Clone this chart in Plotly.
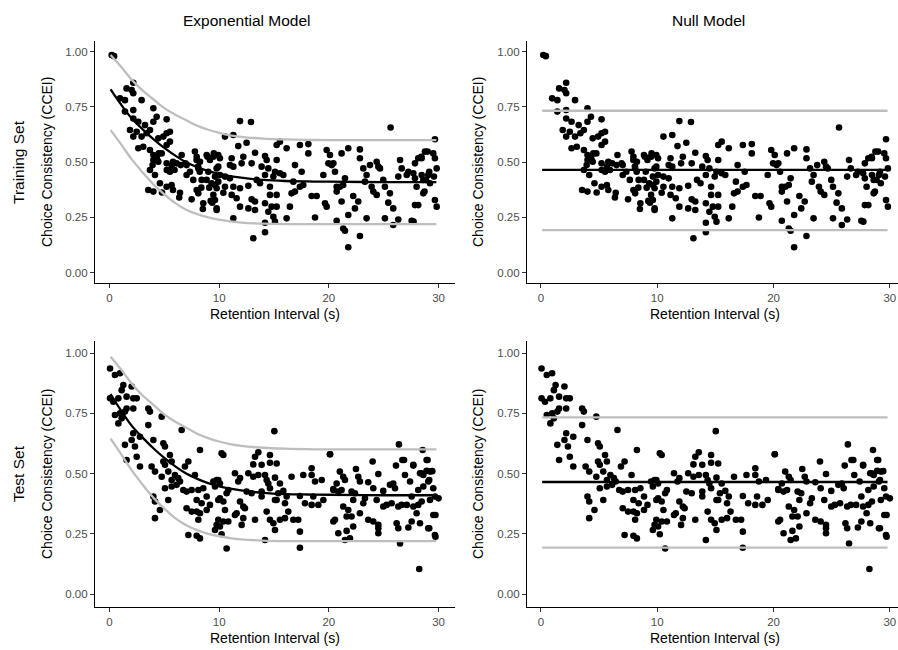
import plotly.graph_objects as go

# ---------------- data ----------------
train_x = [0.2,0.42,2.17,1.56,2.02,2.17,1.41,0.96,2.93,2.17,4.0,1.41,2.17,2.63,3.24,4.0,4.3,5.21,1.87,2.48,
           2.17,2.93,3.39,3.69,4.45,4.91,5.21,5.51,2.63,3.08,3.69,4.0,4.3,4.76,5.21,5.51,4.0,4.45,5.21,5.67,
           5.51,6.12,6.58,7.03,7.34,7.79,7.95,8.25,8.1,8.86,9.16,9.47,9.92,3.69,4.15,4.6,5.21,5.67,3.54,4.0,
           6.43,7.49,7.95,8.1,8.55,8.86,9.31,9.47,9.77,8.4,9.01,9.62,9.77,7.64,7.03,
           6.36,8.51,9.23,9.37,8.37,9.09,4.79,5.79,
           5.22,5.93,6.5,6.93,7.94,8.08,8.23,8.94,9.51,4.5,4.36,3.93,5.79,
           11.9,12.9,10.53,11.29,11.74,12.5,15.24,15.54,16.15,17.36,18.13,18.13,19.8,10.07,11.14,12.2,13.27,14.18,14.33,15.24,
           9.92,10.98,11.29,12.05,12.96,13.87,14.48,15.09,15.54,15.85,16.91,17.52,19.5,19.96,20.26,10.07,10.53,10.98,9.92,9.62,
           9.77,10.53,11.29,11.9,12.66,13.42,13.72,14.18,14.63,14.94,16.76,17.36,17.67,16.91,16.6,10.38,11.14,11.59,12.96,13.27,
           14.63,15.24,18.43,18.89,19.65,9.62,11.9,12.66,13.27,14.18,14.78,15.24,16.45,9.77,11.29,14.48,14.94,16.15,18.74,19.8,
           14.18,15.09,14.18,13.11,
           25.63,21.77,22.83,21.16,22.83,20.1,20.41,20.56,21.47,20.71,21.0,21.31,20.71,22.22,21.16,22.68,22.38,21.77,20.71,21.31,
           21.47,22.83,21.77,23.14,23.44,23.29,23.75,24.51,24.36,24.66,23.9,24.05,24.36,24.96,25.11,25.57,25.42,25.87,23.44,25.11,
           26.33,25.87,27.55,26.49,26.64,26.33,27.25,27.1,27.85,28.15,28.46,28.76,27.7,27.85,28.0,28.46,28.61,29.06,29.22,28.61,
           27.85,28.15,29.52,29.67,29.83,29.67,29.83,29.67,
           29.0,28.43,29.15,29.58,28.86,28.72,27.72]
train_y = [0.985,0.98,0.86,0.834,0.827,0.812,0.781,0.789,0.781,0.736,0.744,0.729,0.698,0.683,0.668,0.683,0.706,0.694,0.646,0.638,
           0.616,0.616,0.631,0.646,0.608,0.616,0.631,0.638,0.563,0.57,0.555,0.533,0.525,0.54,0.578,0.593,0.51,0.502,0.495,0.48,
           0.457,0.495,0.533,0.487,0.457,0.548,0.525,0.502,0.472,0.533,0.51,0.525,0.533,0.465,0.442,0.405,0.389,0.397,0.374,0.367,
           0.362,0.332,0.374,0.359,0.314,0.42,0.405,0.352,0.291,0.42,0.457,0.435,0.472,0.42,0.442,
           0.34,0.288,0.325,0.317,0.385,0.385,0.363,0.374,
           0.465,0.465,0.487,0.495,0.51,0.48,0.457,0.525,0.54,0.54,0.51,0.487,0.502,
           0.686,0.682,0.616,0.623,0.573,0.588,0.578,0.593,0.563,0.578,0.582,0.54,0.555,0.518,0.518,0.525,0.543,0.528,0.51,0.51,
           0.48,0.487,0.48,0.495,0.495,0.48,0.472,0.457,0.45,0.442,0.487,0.457,0.442,0.495,0.487,0.442,0.435,0.427,0.412,0.397,
           0.382,0.389,0.389,0.382,0.393,0.42,0.405,0.442,0.389,0.435,0.412,0.389,0.397,0.367,0.359,0.362,0.352,0.337,0.332,0.322,
           0.352,0.352,0.347,0.347,0.314,0.329,0.299,0.291,0.284,0.314,0.299,0.299,0.299,0.284,0.246,0.276,0.253,0.246,0.25,0.299,
           0.226,0.231,0.183,0.156,
           0.657,0.563,0.558,0.54,0.518,0.533,0.495,0.457,0.427,0.389,0.389,0.397,0.367,0.347,0.322,0.322,0.291,0.261,0.235,0.2,
           0.19,0.166,0.115,0.472,0.442,0.412,0.487,0.48,0.502,0.472,0.389,0.367,0.352,0.42,0.389,0.359,0.317,0.291,0.246,0.246,
           0.241,0.216,0.235,0.51,0.472,0.435,0.457,0.442,0.495,0.518,0.518,0.548,0.45,0.427,0.389,0.442,0.42,0.442,0.405,0.359,
           0.306,0.306,0.54,0.518,0.472,0.329,0.299,0.604,
           0.548,0.525,0.457,0.435,0.42,0.367,0.231]

test_x = [0.05,0.5,0.96,1.26,2.02,1.11,1.56,2.17,2.48,0.05,0.35,0.81,0.5,0.96,1.41,1.11,0.81,1.56,2.17,3.54,
          3.69,4.76,3.54,6.58,2.17,2.78,2.02,4.0,4.91,5.06,1.41,2.32,2.48,1.56,2.78,3.84,4.15,5.51,5.67,4.91,
          5.06,8.25,7.19,6.88,5.36,5.97,6.27,4.76,5.67,6.43,6.12,5.06,5.67,6.73,7.03,7.49,5.36,4.0,4.15,7.79,
          8.1,8.55,8.86,7.95,8.4,9.16,9.47,9.77,9.92,7.03,7.49,7.95,8.25,8.86,8.1,4.6,4.15,7.19,7.95,8.25,
          9.77,9.62,
          15.03,10.22,10.38,13.57,14.63,13.27,13.11,13.87,14.63,15.24,20.11,11.44,11.9,11.74,12.66,13.11,13.57,14.18,14.33,14.48,
          15.09,15.54,16.6,17.67,18.43,18.43,18.74,19.35,9.92,9.62,10.07,10.83,10.68,12.5,12.96,13.87,13.87,14.63,15.09,15.39,
          15.85,16.15,17.36,17.82,18.58,18.43,19.04,19.5,20.41,10.07,10.38,10.53,11.9,12.2,12.35,14.33,15.24,16.0,16.3,9.92,
          10.07,10.38,10.83,11.44,11.59,12.2,13.27,14.63,14.94,15.09,15.54,16.0,16.76,17.21,17.36,12.05,10.22,10.68,14.18,17.36,
          20.41,
          26.39,28.55,20.1,23.99,26.7,26.12,27.7,28.91,22.47,24.51,21.0,21.31,21.47,22.68,22.83,23.59,20.71,20.86,20.41,21.16,
          22.38,24.05,24.96,25.57,25.87,26.03,26.94,27.4,28.31,28.61,28.91,29.22,29.06,29.52,28.61,28.15,29.67,29.22,28.46,28.15,
          27.55,27.1,26.64,26.33,25.72,25.27,24.96,24.36,23.29,23.14,22.07,22.22,21.31,21.77,21.62,22.07,22.83,23.59,24.05,24.51,
          24.51,24.51,26.18,26.33,27.25,27.55,28.31,29.06,29.67,29.52,28.0,27.7,20.56,20.86,21.62,22.22,21.92,21.47,26.49,28.24,
          29.72,29.72,30.0,29.43,29.0,28.43,29.15,29.15,26.86,27.7]
test_y = [0.936,0.909,0.916,0.867,0.861,0.846,0.819,0.812,0.812,0.812,0.798,0.812,0.743,0.75,0.757,0.729,0.708,0.77,0.77,0.77,
          0.757,0.736,0.701,0.681,0.667,0.653,0.639,0.639,0.626,0.612,0.619,0.612,0.57,0.556,0.529,0.529,0.508,0.577,0.55,0.55,
          0.536,0.598,0.55,0.529,0.508,0.494,0.481,0.487,0.473,0.467,0.453,0.439,0.446,0.432,0.425,0.432,0.39,0.405,0.384,0.494,
          0.432,0.439,0.405,0.39,0.377,0.37,0.467,0.473,0.39,0.356,0.342,0.342,0.335,0.349,0.308,0.349,0.315,0.245,0.242,0.231,
          0.287,0.266,
          0.676,0.584,0.577,0.588,0.577,0.57,0.538,0.536,0.545,0.542,0.58,0.501,0.481,0.467,0.501,0.487,0.494,0.494,0.473,0.459,
          0.483,0.459,0.487,0.494,0.522,0.494,0.467,0.473,0.473,0.446,0.459,0.432,0.418,0.425,0.418,0.425,0.405,0.439,0.39,0.418,
          0.428,0.405,0.407,0.377,0.405,0.37,0.37,0.39,0.436,0.397,0.384,0.349,0.384,0.363,0.356,0.342,0.39,0.377,0.342,0.308,
          0.28,0.301,0.301,0.328,0.335,0.315,0.308,0.308,0.294,0.266,0.308,0.315,0.308,0.308,0.259,0.287,0.248,0.189,0.224,0.192,
          0.301,
          0.621,0.598,0.58,0.55,0.556,0.533,0.533,0.556,0.519,0.498,0.508,0.487,0.473,0.487,0.467,0.464,0.459,0.425,0.432,0.432,
          0.418,0.439,0.428,0.453,0.459,0.439,0.494,0.467,0.501,0.494,0.511,0.508,0.467,0.439,0.446,0.432,0.405,0.39,0.384,0.37,
          0.405,0.37,0.37,0.363,0.377,0.37,0.363,0.39,0.397,0.377,0.425,0.39,0.363,0.349,0.322,0.322,0.335,0.308,0.301,0.287,
          0.273,0.252,0.294,0.273,0.276,0.301,0.294,0.273,0.245,0.328,0.335,0.363,0.308,0.252,0.262,0.28,0.231,0.224,0.21,0.104,
          0.238,0.328,0.397,0.51,0.556,0.501,0.473,0.273,0.556,0.536]

# exponential model fit and interval, read at these retention intervals
curve_x   = [0.1, 1, 2, 3, 4, 5, 6, 7, 8, 9, 10, 11, 12, 14, 16, 18, 20, 25, 29.8]
exp_fit   = [0.83, 0.765, 0.70, 0.65, 0.605, 0.565, 0.53, 0.50, 0.478, 0.46, 0.447, 0.437, 0.43, 0.42, 0.415, 0.413, 0.412, 0.41, 0.41]
exp_upper = [0.985, 0.935, 0.875, 0.825, 0.785, 0.745, 0.715, 0.69, 0.665, 0.647, 0.633, 0.622, 0.615, 0.607, 0.603, 0.601, 0.60, 0.60, 0.60]
exp_lower = [0.645, 0.585, 0.515, 0.455, 0.40, 0.355, 0.315, 0.285, 0.265, 0.25, 0.24, 0.232, 0.227, 0.222, 0.22, 0.22, 0.22, 0.22, 0.22]

# null model
null_x     = [0.1, 29.8]
null_fit   = [0.465, 0.465]
null_upper = [0.733, 0.733]
null_lower = [0.193, 0.193]

col_titles = ["Exponential Model", "Null Model"]
row_titles = ["Training Set", "Test Set"]
x_title = "Retention Interval (s)"
y_title = "Choice Consistency (CCEI)"
x_ticks = [0, 10, 20, 30]
y_ticks = [0, 0.25, 0.5, 0.75, 1.0]
y_ticktext = ["0.00", "0.25", "0.50", "0.75", "1.00"]

# ---------------- figure ----------------
FONT = "Liberation Sans, Arial, Helvetica, sans-serif"
W, H = 898, 650
GREY = "#BEBEBE"

fig = go.Figure()

panels = [
    ("x", "y", (train_x, train_y), "exp"),
    ("x2", "y2", (train_x, train_y), "null"),
    ("x3", "y3", (test_x, test_y), "exp"),
    ("x4", "y4", (test_x, test_y), "null"),
]

for xa, ya, (dx, dy), model in panels:
    fig.add_trace(go.Scatter(x=dx, y=dy, mode="markers", xaxis=xa, yaxis=ya,
                             marker=dict(color="black", size=6.6, line=dict(width=0)),
                             showlegend=False, hoverinfo="skip"))
    if model == "exp":
        lx, fit, up, lo, shape = curve_x, exp_fit, exp_upper, exp_lower, "spline"
    else:
        lx, fit, up, lo, shape = null_x, null_fit, null_upper, null_lower, "linear"
    for yy, col in ((up, GREY), (lo, GREY), (fit, "black")):
        fig.add_trace(go.Scatter(x=lx, y=yy, mode="lines", xaxis=xa, yaxis=ya,
                                 line=dict(color=col, width=2.3, shape=shape),
                                 showlegend=False, hoverinfo="skip"))

def xaxis(domain, rng, anchor):
    return dict(domain=domain, range=rng, anchor=anchor, tickvals=x_ticks,
                showline=True, linecolor="black", linewidth=1.1, mirror=False,
                ticks="outside", ticklen=4, tickwidth=1, tickcolor="#333333",
                tickfont=dict(family=FONT, size=11.5, color="#4D4D4D"),
                showgrid=False, zeroline=False, fixedrange=True)

def yaxis(domain, rng, anchor):
    return dict(domain=domain, range=rng, anchor=anchor, tickvals=y_ticks, ticktext=y_ticktext,
                showline=True, linecolor="black", linewidth=1.1, mirror=False,
                ticks="outside", ticklen=4, tickwidth=1, tickcolor="#333333",
                tickfont=dict(family=FONT, size=11.5, color="#4D4D4D"),
                showgrid=False, zeroline=False, fixedrange=True)

xl = [95 / W, 455 / W]
xr = [527 / W, 1.0]
yt = [1 - 283.3 / H, 1 - 40.7 / H]
yb = [1 - 607.3 / H, 1 - 341 / H]
rx_l = [-1.32, 31.5]
rx_r = [-1.2, 30.7]
ry_t = [-0.048, 1.05]
ry_b = [-0.055, 1.05]

fig.update_layout(
    width=W, height=H, margin=dict(l=0, r=0, t=0, b=0),
    paper_bgcolor="white", plot_bgcolor="white",
    xaxis=xaxis(xl, rx_l, "y"), yaxis=yaxis(yt, ry_t, "x"),
    xaxis2=xaxis(xr, rx_r, "y2"), yaxis2=yaxis(yt, ry_t, "x2"),
    xaxis3=xaxis(xl, rx_l, "y3"), yaxis3=yaxis(yb, ry_b, "x3"),
    xaxis4=xaxis(xr, rx_r, "y4"), yaxis4=yaxis(yb, ry_b, "x4"),
)

ann = []
def A(text, x, y, size, angle=0, color="black"):
    ann.append(dict(text=text, x=x / W, y=1 - y / H, xref="paper", yref="paper",
                    xanchor="center", yanchor="middle", showarrow=False, textangle=angle,
                    font=dict(family=FONT, size=size, color=color)))

A(col_titles[0], 247, 20, 15.5)
A(col_titles[1], 708, 20, 15.5)
A(row_titles[0], 18, 162, 15.5, -90)
A(row_titles[1], 18, 474, 15.5, -90)
for yc in (162, 474):
    A(y_title, 47, yc, 14, -90)
    A(y_title, 478, yc, 14, -90)
for yc in (314, 638):
    A(x_title, 275, yc, 14)
    A(x_title, 715, yc, 14)
fig.update_layout(annotations=ann)

fig.write_html("out.html")
